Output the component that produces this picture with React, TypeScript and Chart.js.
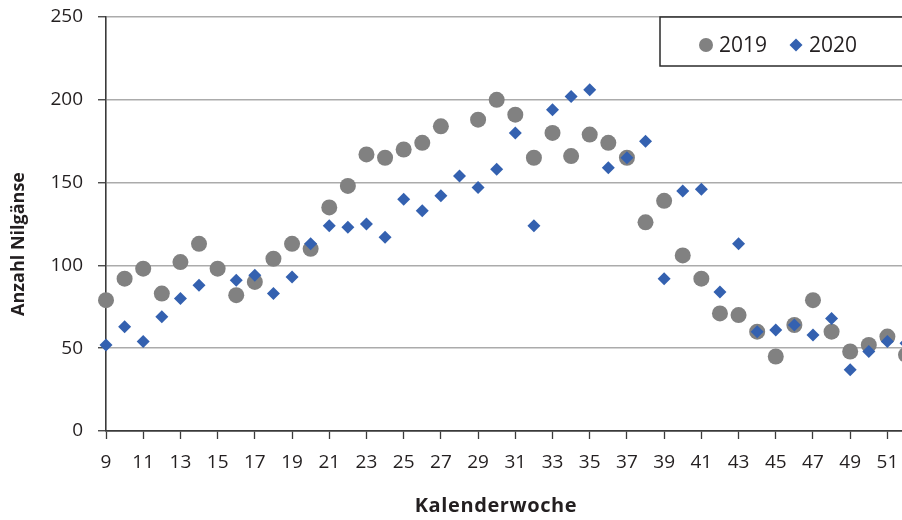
import { useEffect, useRef } from 'react';
import { Chart, registerables } from 'chart.js';

Chart.register(...registerables);

// Calendar weeks 9–52
const weeks = [
  9, 10, 11, 12, 13, 14, 15, 16, 17, 18, 19, 20, 21, 22, 23, 24, 25, 26, 27, 28, 29, 30,
  31, 32, 33, 34, 35, 36, 37, 38, 39, 40, 41, 42, 43, 44, 45, 46, 47, 48, 49, 50, 51, 52,
];

// Weekly counts of Egyptian geese (null = no count that week)
const count2019: (number | null)[] = [
  79, 92, 98, 83, 102, 113, 98, 82, 90, 104, 113, 110, 135, 148, 167, 165, 170, 174, 184, null, 188, 200,
  191, 165, 180, 166, 179, 174, 165, 126, 139, 106, 92, 71, 70, 60, 45, 64, 79, 60, 48, 52, 57, 46,
];
const count2020: (number | null)[] = [
  52, 63, 54, 69, 80, 88, null, 91, 94, 83, 93, 113, 124, 123, 125, 117, 140, 133, 142, 154, 147, 158,
  180, 124, 194, 202, 206, 159, 165, 175, 92, 145, 146, 84, 113, 60, 61, 64, 58, 68, 37, 48, 54, 53,
];

const weekTicks = [9, 11, 13, 15, 17, 19, 21, 23, 25, 27, 29, 31, 33, 35, 37, 39, 41, 43, 45, 47, 49, 51];
const countTicks = [0, 50, 100, 150, 200, 250];
const seriesLabels = ['2019', '2020'];
const yTitle = 'Anzahl Nilgänse';
const xTitle = 'Kalenderwoche';

const GRAY = '#818181';
const BLUE = '#3461B0';
const INK = '#231f20';
const AXIS = '#3a3a3a';
const GRID = '#ababab';
const FONT = "'Open Sans', 'Noto Sans', sans-serif";

const toPoints = (values: (number | null)[]) =>
  weeks.map((w, i) => ({ x: w, y: values[i] }));

// Axis titles and the boxed legend in the upper right
const decorations = {
  id: 'decorations',
  afterDraw(chart: any) {
    const { ctx } = chart;
    ctx.save();

    ctx.fillStyle = INK;
    ctx.textAlign = 'center';
    ctx.textBaseline = 'middle';
    ctx.font = `bold 18px ${FONT}`;
    ctx.save();
    ctx.translate(19, 244);
    ctx.rotate(-Math.PI / 2);
    ctx.fillText(yTitle, 0, 0);
    ctx.restore();
    ctx.font = `bold 20px ${FONT}`;
    if ('letterSpacing' in ctx) (ctx as any).letterSpacing = '0.6px';
    ctx.fillText(xTitle, 496, 506);
    if ('letterSpacing' in ctx) (ctx as any).letterSpacing = '0px';

    // legend box
    ctx.fillStyle = '#ffffff';
    ctx.fillRect(660, 17, 280, 49);
    ctx.strokeStyle = '#2b2b2b';
    ctx.lineWidth = 1.5;
    ctx.strokeRect(660, 17, 280, 49);

    const ds = chart.data.datasets;
    const order = [1, 0];
    const itemX = [706, 796];
    ctx.font = `21px ${FONT}`;
    ctx.textAlign = 'left';
    order.forEach((di: number, k: number) => {
      const d = ds[di];
      const cx = itemX[k];
      const cy = 45;
      ctx.fillStyle = d.backgroundColor;
      ctx.beginPath();
      if (d.pointStyle === 'circle') {
        ctx.arc(cx, cy, 7, 0, Math.PI * 2);
      } else {
        ctx.moveTo(cx - 6.5, cy);
        ctx.lineTo(cx, cy - 6.5);
        ctx.lineTo(cx + 6.5, cy);
        ctx.lineTo(cx, cy + 6.5);
        ctx.closePath();
      }
      ctx.fill();
      ctx.fillStyle = INK;
      ctx.fillText(d.label, cx + 13, cy + 1);
    });

    ctx.restore();
  },
};

export default function App() {
  const canvasRef = useRef<HTMLCanvasElement | null>(null);

  useEffect(() => {
    const canvas = canvasRef.current;
    if (!canvas) return;

    const chart = new Chart(canvas, {
      type: 'scatter',
      data: {
        datasets: [
          {
            label: seriesLabels[1],
            data: toPoints(count2020),
            pointStyle: 'rectRot',
            pointRadius: 6.5,
            backgroundColor: BLUE,
            borderWidth: 0,
            order: 0,
            clip: false,
          },
          {
            label: seriesLabels[0],
            data: toPoints(count2019),
            pointStyle: 'circle',
            pointRadius: 8,
            backgroundColor: GRAY,
            borderWidth: 0,
            order: 1,
            clip: false,
          },
        ],
      },
      options: {
        responsive: false,
        animation: false,
        events: [],
        layout: { padding: { left: 0, top: 17, right: 10, bottom: 0 } },
        plugins: {
          legend: { display: false },
          tooltip: { enabled: false },
        },
        scales: {
          x: {
            type: 'linear',
            min: 9,
            max: 52,
            afterBuildTicks: (scale: any) => {
              scale.ticks = weekTicks.map((value) => ({ value }));
            },
            afterFit: (scale: any) => {
              scale.height = 89;
              scale.paddingLeft = 0;
              scale.paddingRight = 0;
            },
            grid: {
              drawOnChartArea: false,
              drawTicks: true,
              tickLength: 8,
              tickColor: AXIS,
              tickWidth: 1.3,
            },
            border: { color: AXIS, width: 1.6 },
            ticks: {
              autoSkip: false,
              maxRotation: 0,
              padding: 12,
              color: INK,
              font: { family: FONT, size: 19 },
            },
          },
          y: {
            type: 'linear',
            min: 0,
            max: 250,
            afterBuildTicks: (scale: any) => {
              scale.ticks = countTicks.map((value) => ({ value }));
            },
            afterFit: (scale: any) => {
              scale.width = 106;
              scale.paddingTop = 0;
              scale.paddingBottom = 0;
            },
            grid: {
              color: (c: any) => (c.tick && c.tick.value === 0 ? AXIS : GRID),
              lineWidth: 1.5,
              tickLength: 8,
              tickColor: AXIS,
              tickWidth: 1.3,
            },
            border: { color: AXIS, width: 1.6 },
            ticks: {
              padding: 15,
              color: INK,
              font: { family: FONT, size: 19 },
            },
          },
        },
      },
      plugins: [decorations],
    });

    return () => chart.destroy();
  }, []);

  return (
    <div
      style={{
        position: 'absolute',
        left: 0,
        top: 0,
        width: 902,
        height: 520,
        overflow: 'hidden',
        background: '#ffffff',
      }}
    >
      <canvas ref={canvasRef} width={916} height={520} style={{ display: 'block' }} />
    </div>
  );
}
